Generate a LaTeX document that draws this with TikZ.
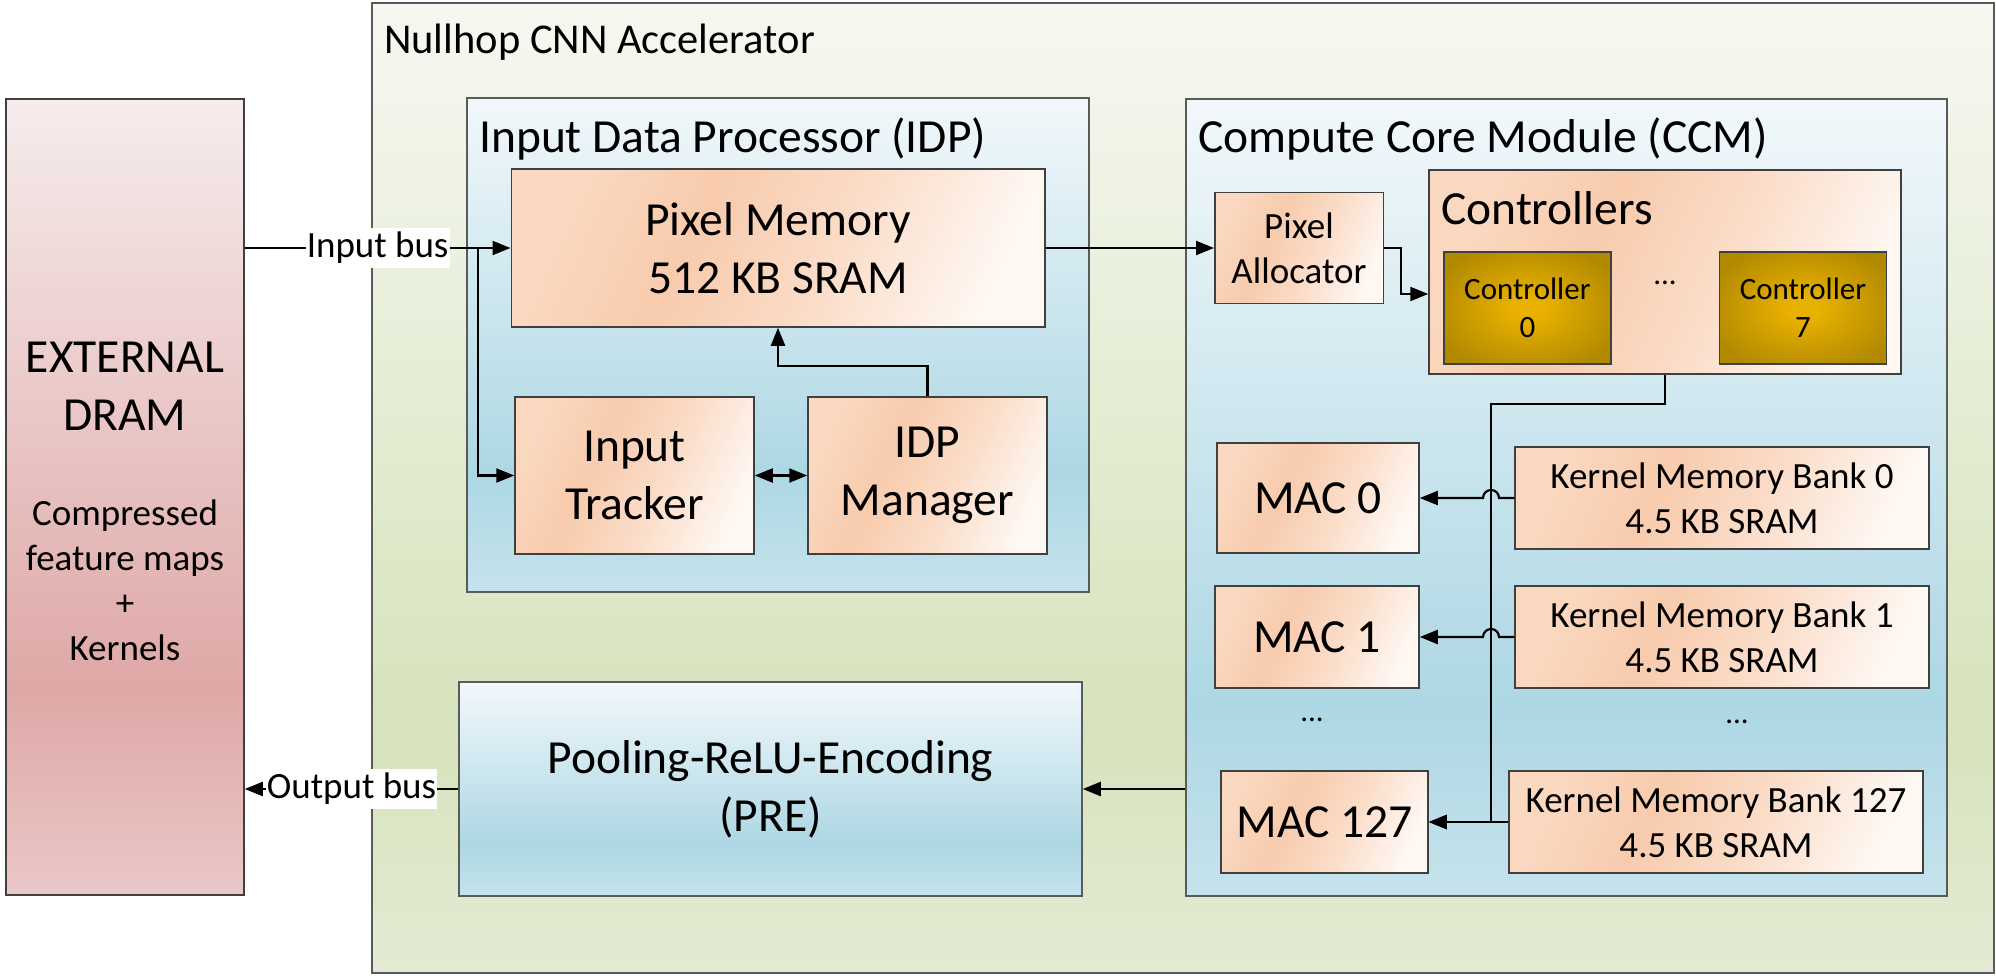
\documentclass[tikz,border=0pt]{standalone}
\usepackage{fontspec}
\setmainfont{Carlito}
\usetikzlibrary{arrows.meta,calc}

\definecolor{boxline}{HTML}{404040}
\definecolor{frameline}{HTML}{5A5A5A}
% orange
\definecolor{orA}{HTML}{FAD8C0}
\definecolor{orB}{HTML}{F8CBAD}
\definecolor{orC}{HTML}{FBDDC9}
\definecolor{orD}{HTML}{FEF7F2}
% blue
\definecolor{blTop}{HTML}{F2F8FB}
\definecolor{blMid}{HTML}{ADD7E4}
\definecolor{blBot}{HTML}{C6E3EC}
% green
\definecolor{grTop}{HTML}{F6F8F1}
\definecolor{grMid}{HTML}{D6E3BC}
\definecolor{grBot}{HTML}{E3EAD3}
% red
\definecolor{rdTop}{HTML}{F6ECEC}
\definecolor{rdMid}{HTML}{DEA8A6}
\definecolor{rdBot}{HTML}{EAC8C7}
% gold
\definecolor{gdIn}{HTML}{E8B000}
\definecolor{gdOut}{HTML}{B08900}

% node spans 25bp..75bp of each shading
\pgfdeclarehorizontalshading{orsh}{100bp}{color(0bp)=(orA); color(25bp)=(orA); color(40bp)=(orB); color(57bp)=(orC); color(75bp)=(orD); color(100bp)=(orD)}
\pgfdeclareverticalshading{blsh}{100bp}{color(0bp)=(blBot); color(25bp)=(blBot); color(37bp)=(blMid); color(75bp)=(blTop); color(100bp)=(blTop)}
\pgfdeclareverticalshading{grsh}{100bp}{color(0bp)=(grBot); color(25bp)=(grBot); color(38bp)=(grMid); color(75bp)=(grTop); color(100bp)=(grTop)}
\pgfdeclareverticalshading{rdsh}{100bp}{color(0bp)=(rdBot); color(25bp)=(rdBot); color(38bp)=(rdMid); color(75bp)=(rdTop); color(100bp)=(rdTop)}
\pgfdeclareradialshading{gdsh}{\pgfpointorigin}{color(0bp)=(gdIn); color(5bp)=(gdIn); color(30bp)=(gdOut); color(50bp)=(gdOut)}

\newcommand{\FBig}{\fontsize{47.5}{58}\selectfont}
\newcommand{\FMed}{\fontsize{37}{45}\selectfont}
\newcommand{\FSml}{\fontsize{31}{38}\selectfont}
\newcommand{\FTtl}{\fontsize{42.5}{51}\selectfont}

\tikzset{
  basebox/.style={draw=boxline, line width=1.5pt, inner sep=0pt, align=center},
  obox/.style={basebox, shade, shading=orsh, shading angle=-25},
  bbox/.style={basebox, draw=frameline, shade, shading=blsh},
  gbox/.style={basebox, draw=frameline, shade, shading=grsh},
  rbox/.style={basebox, shade, shading=rdsh},
  cbox/.style={basebox, shade, shading=gdsh},
  ttl/.style={anchor=west, inner sep=0pt},
  conn/.style={line width=2.2pt, draw=black},
  >={Triangle[length=18pt,width=14pt]},
  lbl/.style={fill=white, inner xsep=1pt, inner ysep=4pt, font=\FMed},
  dots/.style={inner sep=0pt, font=\FSml}
}

\begin{document}
\begin{tikzpicture}[x=1pt,y=-1pt]
\useasboundingbox (0,0) rectangle (1996,975);

% outer accelerator
\node[gbox, minimum width=1622pt, minimum height=970pt] (acc) at (1183,488) {};
\node[ttl, font=\FTtl] (acct) at (384,42) {Nullhop CNN Accelerator};

% external DRAM
\node[rbox, minimum width=238pt, minimum height=796pt] (dram) at (125,497) {};
\node[font=\FBig, align=center, inner sep=0pt] (dramt) at (125,386) {EXTERNAL\\DRAM};
\node[font=\FMed, align=center, inner sep=0pt] (dramc) at (125,580) {Compressed\\feature maps\\+\\Kernels};

% IDP
\node[bbox, minimum width=622pt, minimum height=494pt] (idp) at (778,345) {};
\node[ttl, font=\FBig] (idpt) at (479,139) {Input Data Processor (IDP)};
\node[obox, minimum width=533.5pt, minimum height=158pt, font=\FBig] (pm) at (778,248) {Pixel Memory\\512 KB SRAM};
\node[obox, minimum width=239pt, minimum height=157pt, font=\FBig] (trk) at (634.5,475.5) {Input\\Tracker};
\node[obox, minimum width=239pt, minimum height=157pt, font=\FBig] (mgr) at (927.5,475.5) {IDP\\Manager};

% CCM
\node[bbox, minimum width=761pt, minimum height=797pt] (ccm) at (1566.5,497.5) {};
\node[ttl, font=\FBig] (ccmt) at (1198,139) {Compute Core Module (CCM)};
\node[obox, minimum width=168.5pt, minimum height=111pt, font=\FMed] (pa) at (1299,248) {Pixel\\Allocator};
\node[obox, minimum width=472pt, minimum height=204pt] (ctl) at (1665,272) {};
\node[ttl, font=\FBig] (ctlt) at (1441,208) {Controllers};
\node[cbox, minimum width=167pt, minimum height=112pt, font=\FSml] (c0) at (1527.4,308) {Controller\\0};
\node[cbox, minimum width=167pt, minimum height=112pt, font=\FSml] (c7) at (1803,308) {Controller\\7};
\node[dots] (cdots) at (1665,283) {...};

\node[obox, minimum width=202pt, minimum height=110pt, font=\FBig] (mac0) at (1318,498) {MAC 0};
\node[obox, minimum width=414pt, minimum height=102pt, font=\FMed] (kmb0) at (1722,498) {Kernel Memory Bank 0\\4.5 KB SRAM};
\node[obox, minimum width=204pt, minimum height=102pt, font=\FBig] (mac1) at (1317,637) {MAC 1};
\node[obox, minimum width=414pt, minimum height=102pt, font=\FMed] (kmb1) at (1722,637) {Kernel Memory Bank 1\\4.5 KB SRAM};
\node[dots] (mdots) at (1312,720) {...};
\node[dots] (kdots) at (1737,722) {...};
\node[obox, minimum width=207pt, minimum height=102pt, font=\FBig] (mac127) at (1324.5,822) {MAC 127};
\node[obox, minimum width=414pt, minimum height=102pt, font=\FMed] (kmb127) at (1716,822) {Kernel Memory Bank 127\\4.5 KB SRAM};

% PRE
\node[bbox, minimum width=623pt, minimum height=214pt, font=\FBig] (pre) at (770.5,789) {Pooling-ReLU-Encoding\\(PRE)};

% connectors
\coordinate (br) at (478,248);
\coordinate (busTop) at (1491,404);

\draw[conn,->] (dram.east |- pm.west) -- node[lbl, pos=0.5] (inbus) {Input bus} (pm.west);
\draw[conn,->] (br) |- (trk.west);
\draw[conn,<->] (trk.east) -- (mgr.west);
\draw[conn,->] (mgr.north) -- ++(0,-30) -| (pm.south);
\draw[conn,->] (pm.east) -- (pa.west);
\draw[conn,->] (pa.east) -- ++(17,0) |- ($(ctl.west)+(0,22)$);
\draw[conn,->] (ctl.south) |- (busTop) -- (busTop |- mac127.east) -- (mac127.east);
\draw[conn,->] (kmb0.west) -- ($(busTop |- kmb0.west)+(8,0)$) arc[start angle=0, end angle=-180, radius=8] -- (mac0.east);
\draw[conn,->] (kmb1.west) -- ($(busTop |- kmb1.west)+(8,0)$) arc[start angle=0, end angle=-180, radius=8] -- (mac1.east);
\draw[conn,->] (kmb127.west) -- (mac127.east);
\draw[conn,->] (ccm.west |- pre.east) -- (pre.east);
\draw[conn,->] (pre.west) -- node[lbl, pos=0.5] (outbus) {Output bus} (dram.east |- pre.west);
\end{tikzpicture}
\end{document}
